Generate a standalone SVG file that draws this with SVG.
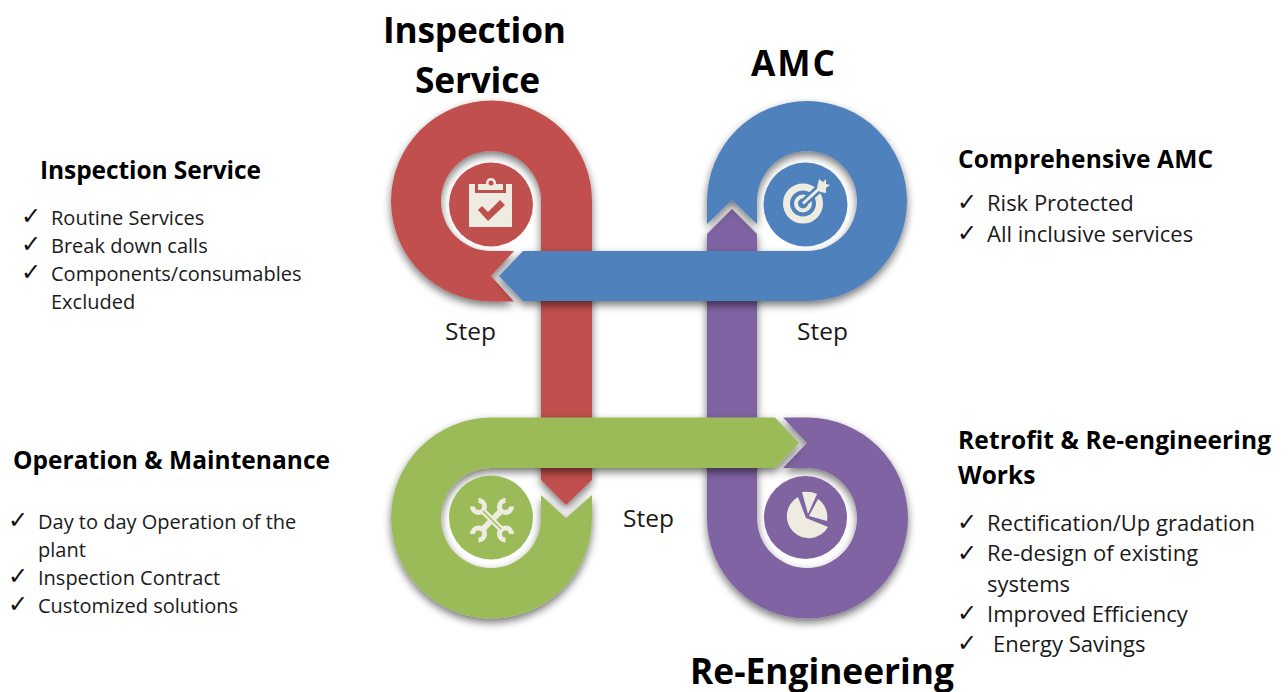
<svg xmlns="http://www.w3.org/2000/svg" width="1288" height="692" viewBox="0 0 1288 692">
<defs>
<filter id="sh" x="-20%" y="-20%" width="140%" height="140%"><feGaussianBlur in="SourceAlpha" stdDeviation="4.500"/><feOffset dy="4"/><feComponentTransfer><feFuncA type="linear" slope="0.55"/></feComponentTransfer><feMerge><feMergeNode/><feMergeNode in="SourceGraphic"/></feMerge></filter>
</defs>
<style>
text{font-family:"Open Sans","Noto Sans","Liberation Sans",sans-serif;fill:#1a1a1a}
.h1{font-size:35.300px;font-weight:700;fill:#000}
.h2{font-size:24.500px;font-weight:700;fill:#000}
.b{font-size:20px}
.r{font-size:22px}
.s{font-size:24.500px}
.c{font-family:"DejaVu Sans",sans-serif;font-size:24px;fill:#111}
.ic{fill:#EEECE1}
</style>
<rect width="1288" height="692" fill="#fff"/>
<g id="connectors">
<path id="band-red" fill="#C0504D" filter="url(#sh)" d="M514 301.500H491.500A100.500 100.500 0 1 1 592 201V480L566 505L541 480V201A50 50 0 1 0 491 251H514L491 276Z"/>
<path id="band-purple" fill="#8064A2" filter="url(#sh)" d="M783 417.500H807.500A100.500 100.500 0 1 1 707 518V234L732 209L757 234V518A50 50 0 1 0 807 468H783L807 443Z"/>
<path id="band-blue" fill="#4F81BD" filter="url(#sh)" d="M707 224V201A100 100 0 1 1 807 301H523L499 276L523 251H807A50 50 0 1 0 757 201V224L732 200Z"/>
<path id="band-green" fill="#9BBB59" filter="url(#sh)" d="M775 417.500H491.500A100.500 100.500 0 1 0 592 518V495L566 518L541 495V518A50 50 0 1 1 491 468H775L799 443Z"/>
</g>
<g id="node-inspection">
<circle cx="491" cy="204.500" r="42" fill="#C0504D"/>
<path class="ic" d="M469 184H512V227H469Z"/>
<path fill="#C0504D" d="M475 184H506V193H475Z"/>
<path class="ic" d="M478 184H503V190H478Z"/>
<circle cx="491" cy="183" r="5" fill="#EEECE1"/>
<circle cx="491" cy="183" r="2.500" fill="#C0504D"/>
<path fill="#C0504D" d="M478 210L482 206L488 212L500 200L505 205L488 221Z"/>
<text class="h1" x="383" y="43" textLength="183">Inspection</text>
<text class="h1" x="415" y="93" textLength="125">Service</text>
<text class="h2" x="40" y="179" textLength="221">Inspection Service</text>
<text class="c" x="21" y="224">✓</text><text class="b" x="51" y="225">Routine Services</text>
<text class="c" x="21" y="252">✓</text><text class="b" x="51" y="253">Break down calls</text>
<text class="c" x="21" y="280">✓</text><text class="b" x="51" y="281">Components/consumables</text>
<text class="b" x="51" y="309">Excluded</text>
<text class="s" x="445" y="340">Step</text>
</g>
<g id="node-amc">
<circle cx="805.500" cy="204.500" r="42" fill="#4F81BD"/>
<g fill="none"><circle cx="803" cy="203.500" r="16.500" stroke="#EEECE1" stroke-width="7"/><circle cx="803" cy="203.500" r="7" stroke="#EEECE1" stroke-width="4"/><path d="M803 203.500L822 186" stroke="#4F81BD" stroke-width="8"/><path d="M803 203.500L822 186" stroke="#EEECE1" stroke-width="3"/></g>
<path class="ic" d="M817 188L819 179L823 182L826 179L826 184L830 185L826 188L826 193L820 192Z"/>
<text class="h1" x="751" y="76" textLength="84">AMC</text>
<text class="h2" x="958" y="168" textLength="255">Comprehensive AMC</text>
<text class="c" x="957" y="210">✓</text><text class="r" x="987" y="211">Risk Protected</text>
<text class="c" x="957" y="241">✓</text><text class="r" x="987" y="242">All inclusive services</text>
<text class="s" x="797" y="340">Step</text>
</g>
<g id="node-operation">
<circle cx="491" cy="517.500" r="42" fill="#9BBB59"/>
<path stroke="#EEECE1" stroke-width="6" d="M482 510L502 530M502 510L482 530"/>
<path fill="none" stroke="#EEECE1" stroke-width="5" d="M478.500 500.500A6 6 0 1 1 472.500 506.500M505.500 500.500A6 6 0 1 0 511.500 506.500M478.500 540A6 6 0 1 0 472.500 534M505.500 540A6 6 0 1 1 511.500 534"/>
<path stroke="#9BBB59" stroke-width="1.500" d="M483 511L501 529"/>
<text class="h2" x="13" y="469" textLength="317">Operation &amp; Maintenance</text>
<text class="c" x="8" y="528">✓</text><text class="b" x="38" y="529">Day to day Operation of the</text>
<text class="b" x="38" y="557">plant</text>
<text class="c" x="8" y="584">✓</text><text class="b" x="38" y="585">Inspection Contract</text>
<text class="c" x="8" y="612">✓</text><text class="b" x="38" y="613">Customized solutions</text>
<text class="s" x="623" y="527">Step</text>
</g>
<g id="node-reengineering">
<circle cx="805.500" cy="517.500" r="41.500" fill="#8064A2"/>
<path class="ic" d="M806 518L798 497A22 22 0 1 0 828 527Z"/>
<path class="ic" d="M808 514L802 492Q811 491 817 494Z"/>
<path class="ic" d="M809 516L818 499A22 22 0 0 1 827 521Z"/>
<text class="h1" x="690" y="684" textLength="264">Re-Engineering</text>
<text class="h2" x="958" y="449" textLength="313">Retrofit &amp; Re-engineering</text>
<text class="h2" x="958" y="484">Works</text>
<text class="c" x="957" y="530">✓</text><text class="r" x="987" y="531">Rectification/Up gradation</text>
<text class="c" x="957" y="561">✓</text><text class="r" x="987" y="561">Re-design of existing</text>
<text class="r" x="987" y="592">systems</text>
<text class="c" x="957" y="621">✓</text><text class="r" x="987" y="622">Improved Efficiency</text>
<text class="c" x="957" y="651">✓</text><text class="r" x="993" y="652">Energy Savings</text>
</g>
</svg>
